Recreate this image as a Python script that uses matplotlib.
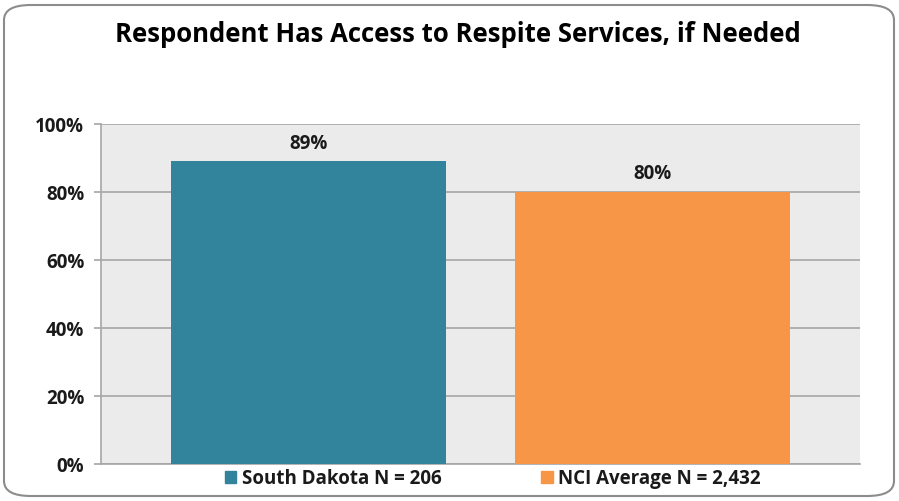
import matplotlib.pyplot as plt
from matplotlib.patches import FancyBboxPatch, Patch

# data
series = ['South Dakota N = 206', 'NCI Average N = 2,432']
values = [89, 80]
colors = ['#31849b', '#f79646']
yticks = [0, 20, 40, 60, 80, 100]

plt.rcParams['font.family'] = ['Open Sans', 'DejaVu Sans']

fig = plt.figure(figsize=(8.99, 5.01), dpi=100)

# rounded frame around the whole chart
frame = FancyBboxPatch((4/899, 5/501), 890/899, 491/501,
                       boxstyle='round,pad=0,rounding_size=0.03',
                       transform=fig.transFigure, facecolor='white',
                       edgecolor='#8c8c8c', linewidth=1.5, zorder=-5)
fig.patches.append(frame)

ax = fig.add_axes([101/899, 37/501, 759/899, 340/501])
ax.set_zorder(2)
ax.set_facecolor('#ebebeb')

x = list(range(len(values)))
ax.bar(x, values, width=0.8, color=colors, zorder=3)
for xi, v in zip(x, values):
  ax.text(xi, v + 2.3, f'{v}%', ha='center', va='bottom', fontsize=13.5, fontweight='bold', color='#1a1a1a')

ax.set_xlim(-0.603, 1.603)
ax.set_ylim(0, 100)
ax.set_yticks(yticks)
ax.set_yticklabels([f'{t}%' for t in yticks], fontsize=13.5, fontweight='bold', color='#1a1a1a')
ax.set_xticks([])
ax.grid(axis='y', color='#a6a6a6', linewidth=1.2, zorder=1)
ax.tick_params(axis='y', length=5, width=1.2, color='#a6a6a6', pad=7)
for s in ['top', 'right']:
  ax.spines[s].set_visible(False)
for s in ['left', 'bottom']:
  ax.spines[s].set_color('#a6a6a6')
  ax.spines[s].set_linewidth(1.2)

fig.text(458/899, 1 - 34/501, 'Respondent Has Access to Respite Services, if Needed',
         ha='center', va='center', fontsize=18.5, fontweight='bold', color='black')

handles = [Patch(color=c) for c in colors]
leg = fig.legend(handles, series, loc='center', bbox_to_anchor=(493/899, 1 - 479/501),
                 ncol=2, frameon=False, fontsize=13.5, handlelength=0.6, handleheight=0.6,
                 handletextpad=0.3, columnspacing=5.3)
for t in leg.get_texts():
  t.set_fontweight('bold')
  t.set_color('#1a1a1a')

fig.savefig('out.png', dpi=100)
